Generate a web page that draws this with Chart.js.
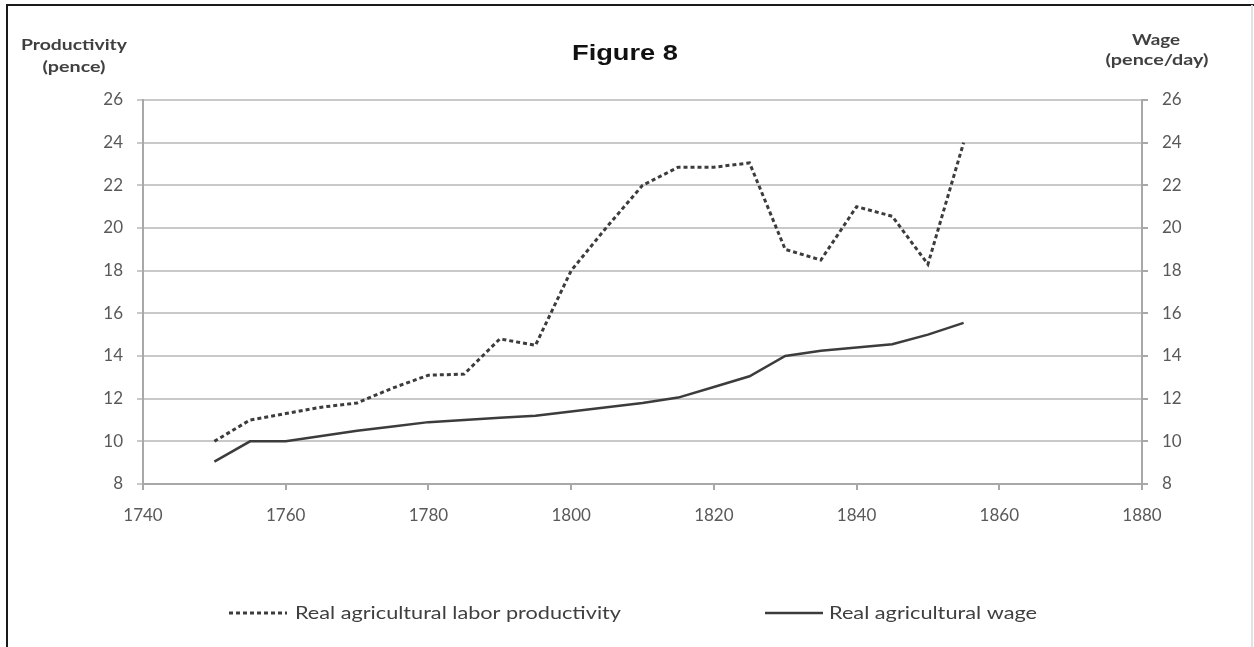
<!DOCTYPE html>
<html>
<head>
<meta charset="utf-8">
<script src="https://cdn.jsdelivr.net/npm/chart.js@4.4.1/dist/chart.umd.min.js"></script>
<style>
  html, body { margin: 0; padding: 0; background: #fff; }
  #wrap { position: relative; width: 1254px; height: 647px; }
</style>
</head>
<body>
<div id="wrap"><canvas id="fig8" width="1254" height="647"></canvas></div>
<script>
const years = [1750, 1755, 1760, 1765, 1770, 1775, 1780, 1785, 1790, 1795, 1800,
  1805, 1810, 1815, 1820, 1825, 1830, 1835, 1840, 1845, 1850, 1855];
const productivity = [10, 11, 11.3, 11.6, 11.8, 12.5, 13.1, 13.15, 14.8, 14.5, 18,
  20.05, 22, 22.85, 22.85, 23.05, 19, 18.5, 21, 20.55, 18.3, 24];
const wage = [9.05, 10, 10, 10.25, 10.5, 10.7, 10.9, 11, 11.1, 11.2, 11.4,
  11.6, 11.8, 12.05, 12.55, 13.05, 14, 14.25, 14.4, 14.55, 15, 15.55];

const titleText = "Figure 8";
const leftTitle = ["Productivity", "(pence)"];
const rightTitle = ["Wage", "(pence/day)"];
const seriesNames = ["Real agricultural labor productivity", "Real agricultural wage"];

const lineColor = "#3c3c3c";
const gridColor = "#c9c9c9";
const axisColor = "#a8a8a8";
const tickColor = "#595959";
const textColor = "#404040";

function toPoints(values) {
  return years.map((year, i) => ({ x: year, y: values[i] }));
}

// draws text squeezed/stretched to a given width (the scan is wide)
function drawFitted(ctx, text, cx, baseline, width, font, color) {
  ctx.save();
  ctx.font = font;
  ctx.fillStyle = color;
  ctx.textAlign = "center";
  ctx.textBaseline = "alphabetic";
  const w = ctx.measureText(text).width;
  ctx.translate(cx, baseline);
  ctx.scale(width / w, 1);
  ctx.fillText(text, 0, 0);
  ctx.restore();
}

const decorations = {
  id: "decorations",
  afterDraw(chart) {
    const ctx = chart.ctx;

    // frame of the scanned figure
    ctx.save();
    ctx.strokeStyle = "#1a1a1a";
    ctx.lineWidth = 2;
    ctx.beginPath();
    ctx.moveTo(7, 647);
    ctx.lineTo(7, 5);
    ctx.lineTo(1254, 5);
    ctx.stroke();
    ctx.strokeStyle = "#e2e2e2";
    ctx.beginPath();
    ctx.moveTo(1252, 5);
    ctx.lineTo(1252, 647);
    ctx.stroke();
    ctx.restore();

    drawFitted(ctx, titleText, 625, 60, 106, "bold 22px 'Liberation Sans'", "#111");

    drawFitted(ctx, leftTitle[0], 74, 50, 106, "bold 15px Lato", textColor);
    drawFitted(ctx, leftTitle[1], 74, 72, 63, "bold 15px Lato", textColor);
    drawFitted(ctx, rightTitle[0], 1156, 45, 48, "bold 15px Lato", textColor);
    drawFitted(ctx, rightTitle[1], 1157, 65, 103, "bold 15px Lato", textColor);

    // legend
    const ds = chart.data.datasets;
    const samples = [[229, 287], [765, 823]];
    const labels = [[458, 326], [933, 208]];
    ds.forEach((d, i) => {
      ctx.save();
      ctx.strokeStyle = d.borderColor;
      ctx.lineWidth = d.borderWidth;
      ctx.setLineDash(d.borderDash || []);
      ctx.beginPath();
      ctx.moveTo(samples[i][0], 613);
      ctx.lineTo(samples[i][1], 613);
      ctx.stroke();
      ctx.restore();
      drawFitted(ctx, d.label, labels[i][0], 619, labels[i][1], "17px Lato", textColor);
    });
  },
};

new Chart(document.getElementById("fig8"), {
  type: "line",
  data: {
    datasets: [
      {
        label: seriesNames[0],
        data: toPoints(productivity),
        borderColor: lineColor,
        borderWidth: 3,
        borderDash: [4, 3],
        pointRadius: 0,
        tension: 0,
        yAxisID: "y",
      },
      {
        label: seriesNames[1],
        data: toPoints(wage),
        borderColor: lineColor,
        borderWidth: 2.5,
        pointRadius: 0,
        tension: 0,
        yAxisID: "y",
      },
    ],
  },
  options: {
    responsive: false,
    animation: false,
    layout: { padding: { top: 100, left: 0, right: 0, bottom: 0 } },
    plugins: {
      legend: { display: false },
      title: { display: false },
      tooltip: { enabled: false },
    },
    scales: {
      x: {
        type: "linear",
        min: 1740,
        max: 1880,
        afterFit: (scale) => { scale.height = 163; },
        ticks: {
          stepSize: 20,
          padding: 15,
          color: tickColor,
          font: { family: "Lato", size: 17 },
          maxRotation: 0,
          callback: (value) => String(value),
        },
        grid: { drawOnChartArea: false, color: axisColor, lineWidth: 2, tickLength: 6 },
        border: { color: axisColor, width: 2 },
      },
      y: {
        position: "left",
        min: 8,
        max: 26,
        afterFit: (scale) => { scale.width = 143; },
        ticks: {
          stepSize: 2,
          padding: 14,
          color: tickColor,
          font: { family: "Lato", size: 17 },
        },
        grid: { color: gridColor, lineWidth: 2, tickLength: 6 },
        border: { color: axisColor, width: 2 },
      },
      y2: {
        position: "right",
        min: 8,
        max: 26,
        afterFit: (scale) => { scale.width = 112; },
        ticks: {
          stepSize: 2,
          padding: 14,
          color: tickColor,
          font: { family: "Lato", size: 17 },
        },
        grid: { drawOnChartArea: false, color: axisColor, lineWidth: 2, tickLength: 6 },
        border: { color: axisColor, width: 2 },
      },
    },
  },
  plugins: [decorations],
});
</script>
</body>
</html>
